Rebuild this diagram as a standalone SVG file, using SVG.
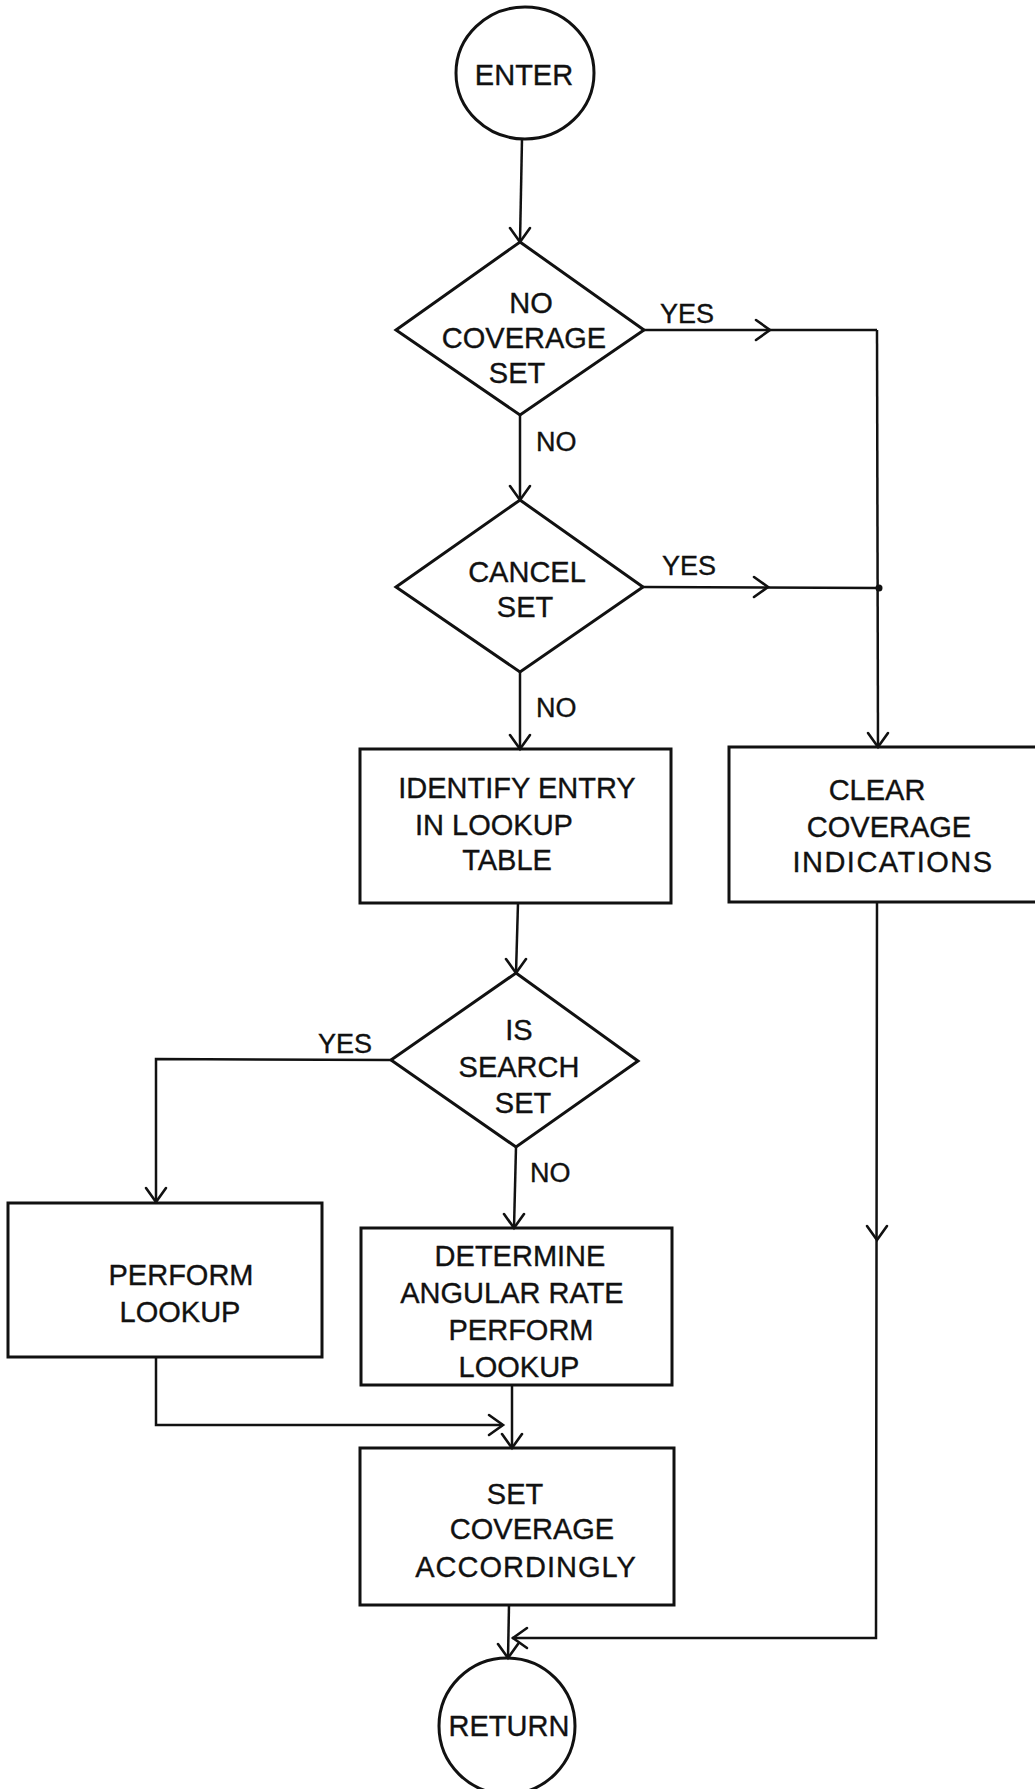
<svg xmlns="http://www.w3.org/2000/svg" width="1035" height="1789" viewBox="0 0 1035 1789">
  <style>
    .shape { fill: none; stroke: #111; stroke-width: 3; }
    .wire { fill: none; stroke: #111; stroke-width: 2.5; }
    .head { fill: none; stroke: #111; stroke-width: 2.6; stroke-linecap: round; stroke-linejoin: miter; }
    text { font-family: "Liberation Sans", Arial, sans-serif; font-size: 29px; fill: #111; stroke: #111; stroke-width: 0.35; text-anchor: middle; }
    .lbl { font-size: 27px; text-anchor: start; }
  </style>
  <defs>
    <!-- open V arrowhead, tip at origin, pointing down -->
    <path id="vhead" class="head" d="M-10,-14 L0,0 L10,-14"/>
  </defs>
  <rect width="1035" height="1789" fill="#fff"/>

  <!-- connectors -->
  <g id="connectors">
    <line class="wire" x1="522" y1="139" x2="520" y2="242"/>
    <use href="#vhead" transform="translate(520,242)"/>

    <!-- YES branches to the right column -->
    <line class="wire" x1="644" y1="330" x2="877" y2="330"/>
    <use href="#vhead" transform="translate(770,330) rotate(-90)"/>
    <line class="wire" x1="877" y1="330" x2="878" y2="747"/>
    <use href="#vhead" transform="translate(878,747)"/>
    <line class="wire" x1="643" y1="587" x2="879" y2="588"/>
    <use href="#vhead" transform="translate(768,587) rotate(-90)"/>
    <circle cx="879" cy="588" r="3.5" fill="#111"/>

    <!-- main column -->
    <line class="wire" x1="520" y1="415" x2="520" y2="500"/>
    <use href="#vhead" transform="translate(520,500)"/>
    <line class="wire" x1="520" y1="672" x2="520" y2="749"/>
    <use href="#vhead" transform="translate(520,749)"/>
    <line class="wire" x1="518" y1="903" x2="516" y2="973"/>
    <use href="#vhead" transform="translate(516,973)"/>
    <line class="wire" x1="516" y1="1147" x2="514" y2="1228"/>
    <use href="#vhead" transform="translate(514,1228)"/>

    <!-- YES to PERFORM LOOKUP -->
    <polyline class="wire" points="391,1060 156,1059 156,1203"/>
    <use href="#vhead" transform="translate(156,1202)"/>

    <!-- both lookups into SET COVERAGE -->
    <line class="wire" x1="512" y1="1385" x2="512" y2="1448"/>
    <use href="#vhead" transform="translate(512,1448)"/>
    <polyline class="wire" points="156,1357 156,1425 503,1425"/>
    <use href="#vhead" transform="translate(503,1425) rotate(-90)"/>

    <!-- CLEAR COVERAGE path down to RETURN -->
    <polyline class="wire" points="877,902 876,1638 512,1638"/>
    <use href="#vhead" transform="translate(877,1240)"/>
    <use href="#vhead" transform="translate(513,1638) rotate(90)"/>
    <line class="wire" x1="509" y1="1605" x2="508" y2="1658"/>
    <use href="#vhead" transform="translate(508,1658)"/>
  </g>

  <!-- branch labels -->
  <g id="labels">
    <text class="lbl" x="660" y="323">YES</text>
    <text class="lbl" x="536" y="451">NO</text>
    <text class="lbl" x="662" y="575">YES</text>
    <text class="lbl" x="536" y="717">NO</text>
    <text class="lbl" x="318" y="1053">YES</text>
    <text class="lbl" x="530" y="1182">NO</text>
  </g>

  <g id="enter">
    <ellipse class="shape" cx="525" cy="73" rx="69" ry="66"/>
    <text x="524" y="85">ENTER</text>
  </g>

  <g id="no-coverage-set">
    <polygon class="shape" points="520,242 644,330 520,415 396,330"/>
    <text x="531" y="313">NO</text>
    <text x="524" y="348">COVERAGE</text>
    <text x="517" y="383">SET</text>
  </g>

  <g id="cancel-set">
    <polygon class="shape" points="520,500 643,587 520,672 396,587"/>
    <text x="527" y="582">CANCEL</text>
    <text x="525" y="617">SET</text>
  </g>

  <g id="identify-entry">
    <rect class="shape" x="360" y="749" width="311" height="154"/>
    <text x="517" y="798">IDENTIFY ENTRY</text>
    <text x="494" y="835">IN LOOKUP</text>
    <text x="507" y="870">TABLE</text>
  </g>

  <g id="clear-coverage">
    <rect class="shape" x="729" y="747" width="320" height="155"/>
    <text x="877" y="800">CLEAR</text>
    <text x="889" y="837">COVERAGE</text>
    <text x="893" y="872" letter-spacing="1.5">INDICATIONS</text>
  </g>

  <g id="is-search-set">
    <polygon class="shape" points="516,973 638,1061 516,1147 391,1060"/>
    <text x="519" y="1040">IS</text>
    <text x="519" y="1077">SEARCH</text>
    <text x="523" y="1113">SET</text>
  </g>

  <g id="perform-lookup">
    <rect class="shape" x="8" y="1203" width="314" height="154"/>
    <text x="181" y="1285">PERFORM</text>
    <text x="180" y="1322">LOOKUP</text>
  </g>

  <g id="determine-rate">
    <rect class="shape" x="361" y="1228" width="311" height="157"/>
    <text x="520" y="1266">DETERMINE</text>
    <text x="512" y="1303">ANGULAR RATE</text>
    <text x="521" y="1340">PERFORM</text>
    <text x="519" y="1377">LOOKUP</text>
  </g>

  <g id="set-coverage">
    <rect class="shape" x="360" y="1448" width="314" height="157"/>
    <text x="515" y="1504">SET</text>
    <text x="532" y="1539">COVERAGE</text>
    <text x="526" y="1577" letter-spacing="1">ACCORDINGLY</text>
  </g>

  <g id="return">
    <circle class="shape" cx="507" cy="1726" r="68"/>
    <text x="509" y="1736">RETURN</text>
  </g>
</svg>
